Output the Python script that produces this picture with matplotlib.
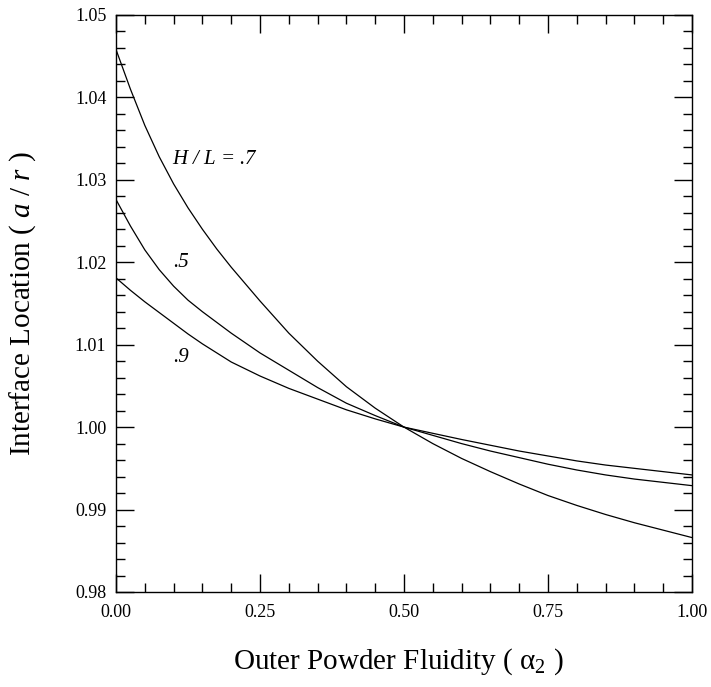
import matplotlib
matplotlib.use("Agg")
import matplotlib.pyplot as plt
from matplotlib.ticker import MultipleLocator, FormatStrFormatter

plt.rcParams['font.family'] = ['Liberation Serif', 'DejaVu Serif']
plt.rcParams['mathtext.fontset'] = 'custom'
plt.rcParams['mathtext.rm'] = 'Liberation Serif'
plt.rcParams['mathtext.it'] = 'Liberation Serif:italic'

# values
alpha2 = [0.0, 0.025, 0.05, 0.075, 0.10, 0.125, 0.15, 0.175, 0.20, 0.25,
          0.30, 0.35, 0.40, 0.45, 0.50, 0.55, 0.60, 0.65, 0.70, 0.75,
          0.80, 0.85, 0.90, 0.95, 1.00]
hl_07 = [1.0458, 1.0410, 1.0366, 1.0328, 1.0295, 1.0266, 1.0240, 1.0216,
         1.0194, 1.0153, 1.0114, 1.0080, 1.0049, 1.0023, 1.0000, 0.9980,
         0.9962, 0.9946, 0.9931, 0.9917, 0.9905, 0.9894, 0.9884, 0.9875,
         0.9866]
hl_05 = [1.0276, 1.0244, 1.0215, 1.0191, 1.0171, 1.0154, 1.0140, 1.0127,
         1.0114, 1.0090, 1.0069, 1.0048, 1.0029, 1.0014, 1.0000, 0.9990,
         0.9980, 0.9971, 0.9963, 0.9955, 0.9948, 0.9942, 0.9937, 0.9933,
         0.9929]
hl_09 = [1.0181, 1.0166, 1.0152, 1.0139, 1.0126, 1.0113, 1.0101, 1.0090,
         1.0079, 1.0062, 1.0047, 1.0034, 1.0021, 1.0010, 1.0000, 0.99925,
         0.9985, 0.9978, 0.9971, 0.9965, 0.9959, 0.9954, 0.9950, 0.9946,
         0.9942]

curve_labels = [r'$\mathit{H}$ / $\mathit{L}$ = .7', '.5', '.9']
label_x = [0.097, 0.099, 0.099]
label_y = [1.0325, 1.0200, 1.0085]

fig = plt.figure(figsize=(7.11, 6.87), dpi=100)
ax = fig.add_axes([0.1632, 0.1383, 0.8101, 0.8399])

for ys in (hl_07, hl_05, hl_09):
    ax.plot(alpha2, ys, color='black', linewidth=0.9)

for txt, tx, ty in zip(curve_labels, label_x, label_y):
    ax.text(tx, ty, txt, fontsize=15, style='italic', ha='left', va='center')

ax.set_xlim(0, 1)
ax.set_ylim(0.98, 1.05)
ax.xaxis.set_major_locator(MultipleLocator(0.25))
ax.xaxis.set_minor_locator(MultipleLocator(0.05))
ax.yaxis.set_major_locator(MultipleLocator(0.01))
ax.yaxis.set_minor_locator(MultipleLocator(0.002))
ax.xaxis.set_major_formatter(FormatStrFormatter('%.2f'))
ax.yaxis.set_major_formatter(FormatStrFormatter('%.2f'))

ax.tick_params(which='both', direction='in', top=True, right=True,
               labelsize=13, width=1.0)
ax.tick_params(which='major', length=13)
ax.tick_params(which='minor', length=6.5)
ax.tick_params(axis='y', pad=7)
ax.tick_params(axis='x', pad=9)
for s in ax.spines.values():
    s.set_linewidth(1.0)

ax.set_xlabel(r'Outer Powder Fluidity ( $\mathrm{\alpha}_2$ )', fontsize=21)
ax.set_ylabel(r'Interface Location ( $\mathit{a}$ / $\mathit{r}$ )', fontsize=21)
ax.xaxis.set_label_coords(0.49, -0.095)
ax.yaxis.set_label_coords(-0.135, 0.5)

fig.savefig('out.png', dpi=100)
